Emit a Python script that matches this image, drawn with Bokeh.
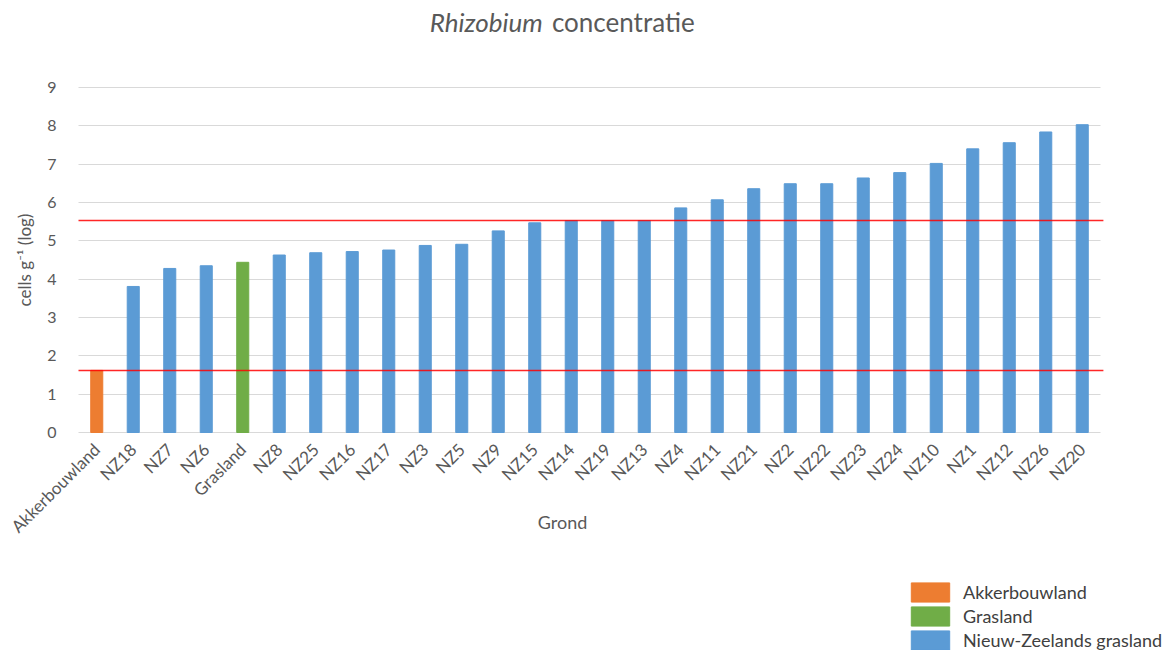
import math
from bokeh.plotting import figure
from bokeh.models import (ColumnDataSource, Label, Legend, LegendItem,
                          FixedTicker, Range1d)
from bokeh.embed import file_html
from bokeh.resources import INLINE

# ---- data ----
grond = ["Akkerbouwland", "NZ18", "NZ7", "NZ6", "Grasland", "NZ8", "NZ25", "NZ16",
         "NZ17", "NZ3", "NZ5", "NZ9", "NZ15", "NZ14", "NZ19", "NZ13", "NZ4", "NZ11",
         "NZ21", "NZ2", "NZ22", "NZ23", "NZ24", "NZ10", "NZ1", "NZ12", "NZ26", "NZ20"]
concentratie = [1.62, 3.81, 4.28, 4.35, 4.44, 4.63, 4.69, 4.72, 4.76, 4.88, 4.91,
                5.26, 5.47, 5.53, 5.53, 5.53, 5.86, 6.07, 6.36, 6.49, 6.49, 6.64,
                6.78, 7.02, 7.40, 7.56, 7.84, 8.03]
groep = ["Akkerbouwland", "Nieuw-Zeelands grasland", "Nieuw-Zeelands grasland",
         "Nieuw-Zeelands grasland", "Grasland"] + ["Nieuw-Zeelands grasland"] * 23
groepen = ["Akkerbouwland", "Grasland", "Nieuw-Zeelands grasland"]
kleuren = ["#ED7D31", "#70AD47", "#5B9BD5"]
referentielijnen = [1.62, 5.53]
y_ticks = [0, 1, 2, 3, 4, 5, 6, 7, 8, 9]

FONT = "Lato"
GREY = "#595959"
n = len(grond)
pos = list(range(n))

p = figure(x_range=Range1d(-2.637, 29.418), y_range=Range1d(-5.687, 11.27),
           width=1170, height=650, output_backend="svg", toolbar_location=None,
           min_border_left=0, min_border_right=0, min_border_top=0,
           min_border_bottom=0)
p.outline_line_color = None

items = []
for g, c in zip(groepen, kleuren):
    idx = [i for i, gg in enumerate(groep) if gg == g]
    src = ColumnDataSource(dict(x=[pos[i] for i in idx], naam=[grond[i] for i in idx],
                                top=[concentratie[i] for i in idx]))
    r = p.vbar(x="x", top="top", width=0.33, source=src, fill_color=c,
               line_color=c, line_width=1)
    items.append(LegendItem(label=g, renderers=[r]))

# horizontal reference lines across the category area
p.segment(x0=[-0.5] * len(referentielijnen), x1=[n - 0.42] * len(referentielijnen),
          y0=referentielijnen, y1=referentielijnen, line_color="#FF0000",
          line_width=1.5, line_alpha=0.85)

# y axis, drawn at the left edge of the categories
p.yaxis.fixed_location = -0.5
p.yaxis.ticker = FixedTicker(ticks=y_ticks)
p.yaxis.bounds = (y_ticks[0], y_ticks[-1])
p.yaxis.axis_line_color = None
p.yaxis.major_tick_line_color = None
p.yaxis.minor_tick_line_color = None
p.yaxis.major_label_text_font = FONT
p.yaxis.major_label_text_font_size = "16px"
p.yaxis.major_label_text_color = GREY
p.yaxis.major_label_standoff = 16
p.yaxis.axis_label = "cells g\u207b\u00b9 (log)"
p.yaxis.axis_label_text_font = FONT
p.yaxis.axis_label_text_font_size = "17px"
p.yaxis.axis_label_text_font_style = "normal"
p.yaxis.axis_label_text_color = GREY
p.yaxis.axis_label_standoff = 9

# x axis (categories as tick labels), drawn at y = 0
p.xaxis.fixed_location = 0
p.xaxis.ticker = FixedTicker(ticks=pos)
p.xaxis.major_label_overrides = {i: g for i, g in zip(pos, grond)}
p.xaxis.bounds = (-1.98, n - 0.5)
p.xaxis.axis_line_color = None
p.xaxis.major_tick_line_color = None
p.xaxis.minor_tick_line_color = None
p.xaxis.major_label_orientation = math.pi / 4
p.xaxis.major_label_text_font = FONT
p.xaxis.major_label_text_font_size = "17px"
p.xaxis.major_label_text_color = GREY
p.xaxis.major_label_standoff = 8
p.xaxis.axis_label = "Grond"
p.xaxis.axis_label_text_font = FONT
p.xaxis.axis_label_text_font_size = "18px"
p.xaxis.axis_label_text_font_style = "normal"
p.xaxis.axis_label_text_color = GREY
p.xaxis.axis_label_standoff = -36

p.xgrid.grid_line_color = None
p.ygrid.grid_line_color = "#D9D9D9"
p.ygrid.grid_line_width = 1
p.ygrid.cross_bounds = (-0.5, n - 0.5)

# title (mixed italic), placed inside the top of the frame
p.add_layout(Label(x=12.22, y=10.72, text="Rhizobium", text_font=FONT,
                   text_font_size="26px", text_font_style="italic",
                   text_color=GREY, text_align="right", text_baseline="middle"))
p.add_layout(Label(x=12.47, y=10.72, text="concentratie", text_font=FONT,
                   text_font_size="26px", text_color=GREY, text_align="left",
                   text_baseline="middle"))

legend = Legend(items=items, location=(906, -2), orientation="vertical",
                glyph_width=48, glyph_height=24, spacing=0, padding=0,
                margin=0, label_standoff=9, label_height=24,
                label_text_font=FONT, label_text_font_size="18px",
                label_text_color="#404040", border_line_color=None,
                background_fill_alpha=0)
p.add_layout(legend, "center")

open("out.html", "w").write(file_html(p, INLINE))
